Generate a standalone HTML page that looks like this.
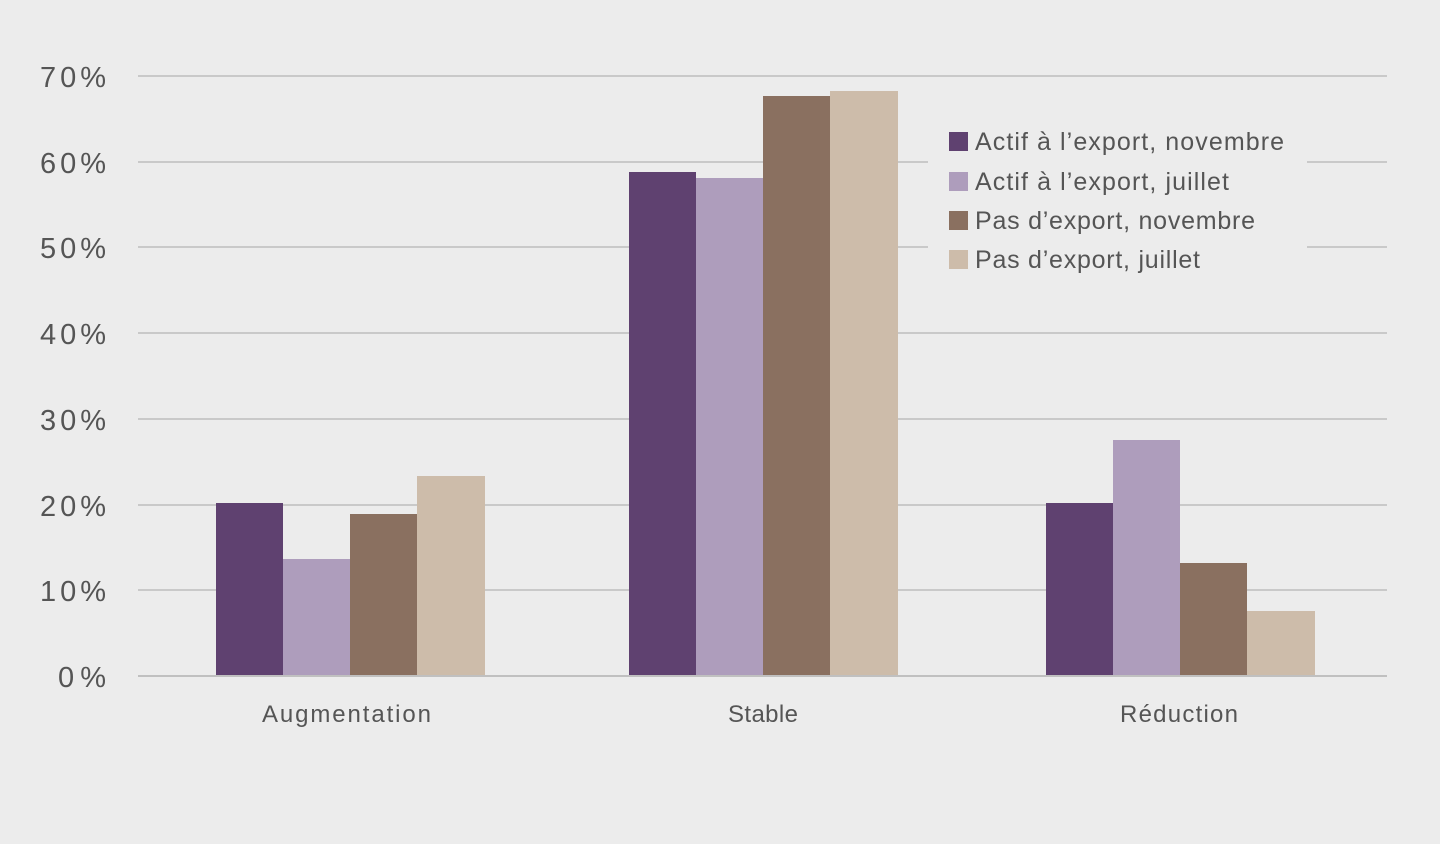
<!DOCTYPE html>
<html><head><meta charset="utf-8"><style>
html,body{margin:0;padding:0;background:#ececec;}
svg{display:block;}
text{font-family:"Liberation Sans",sans-serif;fill:#555;}
</style></head><body>
<svg width="1440" height="844" xmlns="http://www.w3.org/2000/svg">
<rect width="1440" height="844" fill="#ececec"/>
<g stroke="#c9c9c9" stroke-width="2">
<line x1="138" x2="1387" y1="76" y2="76"/>
<line x1="138" x2="1387" y1="162" y2="162"/>
<line x1="138" x2="1387" y1="247" y2="247"/>
<line x1="138" x2="1387" y1="333" y2="333"/>
<line x1="138" x2="1387" y1="419" y2="419"/>
<line x1="138" x2="1387" y1="505" y2="505"/>
<line x1="138" x2="1387" y1="590" y2="590"/>
</g>
<g font-size="29">
<text x="40" y="87" textLength="66">70%</text>
<text x="40" y="173" textLength="66">60%</text>
<text x="40" y="258" textLength="66">50%</text>
<text x="40" y="344" textLength="66">40%</text>
<text x="40" y="430" textLength="66">30%</text>
<text x="40" y="516" textLength="66">20%</text>
<text x="40" y="601" textLength="66">10%</text>
<text x="58" y="687" textLength="48">0%</text>
</g>
<g>
<rect x="216" y="503" width="67" height="173" fill="#5f4170"/>
<rect x="283" y="559" width="67" height="117" fill="#ae9dbc"/>
<rect x="350" y="514" width="67" height="162" fill="#8a7060"/>
<rect x="417" y="476" width="68" height="200" fill="#cdbcaa"/>
<rect x="629" y="172" width="67" height="504" fill="#5f4170"/>
<rect x="696" y="178" width="67" height="498" fill="#ae9dbc"/>
<rect x="763" y="96" width="67" height="580" fill="#8a7060"/>
<rect x="830" y="91" width="68" height="585" fill="#cdbcaa"/>
<rect x="1046" y="503" width="67" height="173" fill="#5f4170"/>
<rect x="1113" y="440" width="67" height="236" fill="#ae9dbc"/>
<rect x="1180" y="563" width="67" height="113" fill="#8a7060"/>
<rect x="1247" y="611" width="68" height="65" fill="#cdbcaa"/>
</g>
<line x1="138" x2="1387" y1="676" y2="676" stroke="#c0c0c0" stroke-width="2"/>
<g font-size="24">
<text x="262" y="722" textLength="169">Augmentation</text>
<text x="728" y="722" textLength="70">Stable</text>
<text x="1120" y="722" textLength="118">Réduction</text>
</g>
<rect x="928" y="120" width="379" height="160" fill="#ececec"/>
<g font-size="25">
<rect x="949" y="132" width="19" height="19" fill="#5f4170"/>
<text x="975" y="150" textLength="309">Actif à l’export, novembre</text>
<rect x="949" y="172" width="19" height="19" fill="#ae9dbc"/>
<text x="975" y="190" textLength="254">Actif à l’export, juillet</text>
<rect x="949" y="211" width="19" height="19" fill="#8a7060"/>
<text x="975" y="229" textLength="280">Pas d’export, novembre</text>
<rect x="949" y="250" width="19" height="19" fill="#cdbcaa"/>
<text x="975" y="268" textLength="225">Pas d’export, juillet</text>
</g>
</svg>
</body></html>
